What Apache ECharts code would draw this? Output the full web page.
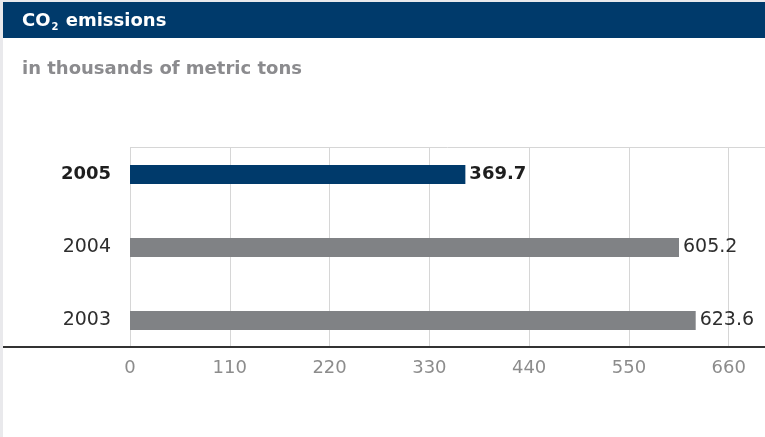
<!DOCTYPE html>
<html>
<head>
<meta charset="utf-8">
<style>
  html, body { margin: 0; padding: 0; background: #ffffff; }
  #chart { width: 765px; height: 437px; }
</style>
<script src="https://cdn.jsdelivr.net/npm/echarts@6/dist/echarts.min.js"></script>
</head>
<body>
<div id="chart"></div>
<script>
// Annual CO2 emissions, thousands of metric tons
const years = ['2003', '2004', '2005'];
const emissions = [623.6, 605.2, 369.7];
const currentYear = '2005';
const axisTicks = [0, 110, 220, 330, 440, 550, 660];

const FONT = '"DejaVu Sans", Verdana, sans-serif';
const NAVY = '#003a6b';
const GREY_BAR = '#808285';
const GRID_LINE = '#d6d6d6';

const tickStep = axisTicks[1] - axisTicks[0];
// the value range runs a little past the last labelled tick, out to the page edge
const axisMax = 700;

const chart = echarts.init(document.getElementById('chart'), null, { renderer: 'canvas' });

const barData = emissions.map((v, i) => {
  const hl = years[i] === currentYear;
  return {
    value: v,
    itemStyle: { color: hl ? NAVY : GREY_BAR },
    label: {
      fontWeight: hl ? 'bold' : 'normal',
      fontSize: hl ? 18 : 19,
      color: hl ? '#1e1e1e' : '#2e2e2e'
    }
  };
});

chart.setOption({
  animation: false,
  backgroundColor: '#ffffff',
  graphic: [
    { type: 'rect', z: -10, shape: { x: 0, y: 0, width: 3, height: 437 }, style: { fill: '#e9e9ec' } },
    { type: 'rect', z: -10, shape: { x: 0, y: 0, width: 765, height: 2 }, style: { fill: '#e9e9ec' } },
    { type: 'rect', z: -5, shape: { x: 3, y: 2, width: 762, height: 36 }, style: { fill: NAVY } },
    // top rule of the plot frame
    { type: 'line', z: 1, shape: { x1: 130, y1: 147.5, x2: 765, y2: 147.5 }, style: { stroke: GRID_LINE, lineWidth: 1 } },
    // baseline running the full width
    { type: 'line', z: 50, shape: { x1: 3, y1: 347, x2: 765, y2: 347 }, style: { stroke: '#333333', lineWidth: 2 } }
  ],
  title: [
    {
      text: 'CO{sub|2} emissions',
      left: 22,
      top: 11,
      padding: 0,
      textStyle: {
        fontFamily: FONT, fontSize: 18, fontWeight: 'bold', color: '#ffffff', lineHeight: 20,
        rich: {
          sub: { fontFamily: FONT, fontSize: 10, fontWeight: 'bold', color: '#ffffff', padding: [13, 1, 0, 1] }
        }
      }
    },
    {
      text: 'in thousands of metric tons',
      left: 22,
      top: 59,
      padding: 0,
      textStyle: { fontFamily: FONT, fontSize: 18, fontWeight: 'bold', color: '#8b8b8e', lineHeight: 20 }
    }
  ],
  grid: [
    // value gridlines
    { left: 130, right: 0, top: 147, height: 200 },
    // bars
    { left: 130, right: 0, top: 138, height: 219 }
  ],
  xAxis: [
    {
      gridIndex: 0, type: 'value', min: 0, max: axisMax, interval: tickStep,
      axisLine: { show: false }, axisTick: { show: false },
      splitLine: { show: true, lineStyle: { color: GRID_LINE, width: 1 } },
      axisLabel: {
        showMaxLabel: false, margin: 12,
        fontFamily: FONT, fontSize: 18, color: '#8c8c8c',
        formatter: v => (axisTicks.indexOf(v) >= 0 ? String(v) : '')
      }
    },
    { gridIndex: 1, type: 'value', min: 0, max: axisMax, show: false }
  ],
  yAxis: [
    { gridIndex: 0, type: 'value', show: false },
    {
      gridIndex: 1, type: 'category', data: years,
      axisLine: { show: false }, axisTick: { show: false }, splitLine: { show: false },
      axisLabel: {
        margin: 19,
        fontFamily: FONT, fontSize: 19, color: '#2e2e2e',
        formatter: v => (v === currentYear ? '{hl|' + v + '}' : v),
        rich: { hl: { fontFamily: FONT, fontSize: 18, fontWeight: 'bold', color: '#1e1e1e' } }
      }
    }
  ],
  series: [
    {
      type: 'bar', xAxisIndex: 1, yAxisIndex: 1,
      barWidth: 19,
      data: barData,
      label: {
        show: true, position: 'right', distance: 4,
        fontFamily: FONT,
        formatter: p => p.value.toFixed(1)
      }
    }
  ]
});
</script>
</body>
</html>
